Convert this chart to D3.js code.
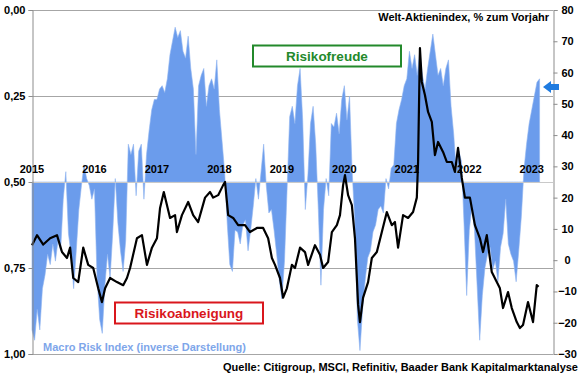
<!DOCTYPE html>
<html>
<head>
<meta charset="utf-8">
<script src="https://cdn.jsdelivr.net/npm/d3@7"></script>
<style>
  body { margin: 0; background: #fff; }
  svg { font-family: "Liberation Sans", Arial, sans-serif; font-weight: bold; }
</style>
</head>
<body>
<script>
const width = 580, height = 375;
const margin = {top: 10, right: 27, bottom: 21, left: 32};

// Macro Risk Index (inverse), half-monthly from Jan 2015
const mriStart = 2015;
const mriValues = [
  0.93, 0.96, 0.87, 0.93, 0.81, 0.77, 0.71, 0.74, 0.68, 0.73, 0.67, 0.70,
  0.55, 0.47, 0.65, 0.71, 0.81, 0.70, 0.58, 0.51, 0.45, 0.49, 0.51, 0.55,
  0.52, 0.78, 0.90, 0.94, 0.80, 0.71, 0.78, 0.65, 0.49, 0.62, 0.70, 0.76,
  0.67, 0.39, 0.42, 0.39, 0.54, 0.41, 0.39, 0.55, 0.42, 0.35, 0.29, 0.26,
  0.26, 0.23, 0.22, 0.24, 0.20, 0.13, 0.09, 0.05, 0.08, 0.06, 0.12, 0.14,
  0.076, 0.17, 0.23, 0.42, 0.22, 0.19, 0.17, 0.28, 0.22, 0.20, 0.23, 0.145,
  0.29, 0.38, 0.47, 0.62, 0.74, 0.76, 0.64, 0.645, 0.68, 0.625, 0.61, 0.70,
  0.64, 0.57, 0.49, 0.55, 0.47, 0.39, 0.51, 0.59, 0.58, 0.64, 0.71, 0.785,
  0.84, 0.73, 0.52, 0.31, 0.28, 0.33, 0.22, 0.17, 0.32, 0.58, 0.48, 0.33,
  0.28, 0.39, 0.58, 0.80, 0.58, 0.49, 0.54, 0.33, 0.34, 0.30, 0.36, 0.26,
  0.22, 0.32, 0.25, 0.47, 0.61, 0.90, 0.99, 0.87, 0.785, 0.72, 0.70, 0.645,
  0.625, 0.58, 0.57, 0.59, 0.49, 0.52, 0.46, 0.45, 0.33, 0.29, 0.26, 0.22,
  0.20, 0.12, 0.17, 0.13, 0.19, 0.12, 0.19, 0.23, 0.17, 0.12, 0.07, 0.13,
  0.19, 0.17, 0.22, 0.17, 0.145, 0.28, 0.36, 0.47, 0.41, 0.44, 0.625, 0.83,
  0.64, 0.57, 0.64, 0.80, 0.96, 0.83, 0.75, 0.71, 0.69, 0.755, 0.73, 0.79,
  0.69, 0.65, 0.55, 0.68, 0.71, 0.73, 0.79, 0.70, 0.60, 0.465, 0.39, 0.33,
  0.29, 0.25, 0.21, 0.20
];
const mriDates = mriValues.map((v, i) => mriStart + i / 24);

// Welt-Aktienindex, % zum Vorjahr
const eqDates = [
  2015.00, 2015.08, 2015.18, 2015.29, 2015.40, 2015.48, 2015.56, 2015.61, 2015.66, 2015.74,
  2015.82, 2015.90, 2015.98, 2016.06, 2016.12, 2016.17, 2016.25, 2016.36, 2016.46, 2016.52,
  2016.57, 2016.68, 2016.76, 2016.84, 2016.92, 2017.00, 2017.05, 2017.11, 2017.21, 2017.29,
  2017.32, 2017.40, 2017.50, 2017.58, 2017.66, 2017.77, 2017.85, 2017.90, 2017.98, 2018.06,
  2018.09, 2018.14, 2018.22, 2018.30, 2018.41, 2018.49, 2018.60, 2018.70, 2018.78, 2018.84,
  2018.89, 2018.97, 2019.02, 2019.08, 2019.16, 2019.21, 2019.29, 2019.37, 2019.42, 2019.53,
  2019.61, 2019.66, 2019.74, 2019.80, 2019.88, 2019.93, 2019.98, 2020.01, 2020.06, 2020.12,
  2020.17, 2020.22, 2020.25, 2020.30, 2020.38, 2020.44, 2020.52, 2020.60, 2020.68, 2020.76,
  2020.81, 2020.86, 2020.94, 2021.02, 2021.10, 2021.16, 2021.18, 2021.21, 2021.24, 2021.29,
  2021.34, 2021.40, 2021.45, 2021.50, 2021.58, 2021.64, 2021.72, 2021.77, 2021.82, 2021.88,
  2021.93, 2022.01, 2022.09, 2022.17, 2022.22, 2022.28, 2022.36, 2022.44, 2022.49, 2022.54,
  2022.62, 2022.68, 2022.76, 2022.81, 2022.86, 2022.94, 2023.02, 2023.08, 2023.11
];
const eqValues = [
  4.8, 8, 5, 7, 8, 2.6, 0.7, 4, -5.7, -7,
  4, -1.5, -2.5, -9, -13.4, -9, -5.7, -7, -8, -5.7,
  -2.5, 7, 8, -1.5, 4, 7, 16.7, 21.8, 13.5, 14.4,
  9, 14.4, 18.6, 14.4, 12.2, 20, 21.8, 20, 20.8, 24,
  25, 14.4, 13.5, 11.2, 11.2, 9, 10.3, 10.3, 7, 0.7,
  -1.5, -5.7, -12, -9, -1.5, -2.5, 4, 2.6, -1.5, 4.8,
  1.7, -2.5, -0.6, 9, 11.2, 14.4, 24, 27.2, 20.8, 17.6,
  7, -14.3, -19.8, -12, -7, 0.7, 2.6, 9, 15.4, 11.2,
  12.2, 4, 14.4, 13.5, 15.4, 20, 31.4, 67.8, 57, 52.8,
  47.4, 44.2, 33.6, 37.8, 34.6, 31.4, 31.4, 28.2, 35.9, 26.3,
  20, 20, 11.2, 7, 2.6, 8, -3.8, -7, -9, -15.3,
  -10.2, -15.3, -19.8, -21.7, -20.7, -13.4, -19.8, -8, -8.5
];

const years = [2015, 2016, 2017, 2018, 2019, 2020, 2021, 2022, 2023];
const leftTicks = [0, 0.25, 0.5, 0.75, 1];
const rightTicks = [-30, -20, -10, 0, 10, 20, 30, 40, 50, 60, 70, 80];
const arrowValue = 0.224;

const x = d3.scaleLinear()
    .domain([2015, 2023.34])
    .range([margin.left, width - margin.right]);

const yL = d3.scaleLinear()
    .domain([0, 1])
    .range([margin.top, height - margin.bottom]);

const yR = d3.scaleLinear()
    .domain([-30, 80])
    .range([height - margin.bottom, margin.top]);

const svg = d3.select("body").append("svg")
    .attr("width", width)
    .attr("height", height)
    .attr("viewBox", [0, 0, width, height]);

// grid
svg.append("g")
    .selectAll("line")
    .data(leftTicks)
    .join("line")
    .attr("x1", margin.left)
    .attr("x2", width - margin.right)
    .attr("y1", d => yL(d) + 0.5)
    .attr("y2", d => yL(d) + 0.5)
    .attr("stroke", "#a6a6a6");

// risk index area around 0.50
const mri = mriValues.map((v, i) => ({t: mriDates[i], v}));
svg.append("path")
    .datum(mri)
    .attr("fill", "#6b9cec")
    .attr("stroke", "#8fb4f0")
    .attr("stroke-width", 0.6)
    .attr("d", d3.area()
        .x(d => x(d.t))
        .y0(yL(0.5))
        .y1(d => yL(d.v)));

svg.append("line")
    .attr("x1", margin.left)
    .attr("x2", width - margin.right)
    .attr("y1", yL(0.5) + 0.5)
    .attr("y2", yL(0.5) + 0.5)
    .attr("stroke", "#c9c9c9");

// equity line
const eq = eqValues.map((v, i) => ({t: eqDates[i], v}));
svg.append("path")
    .datum(eq)
    .attr("fill", "none")
    .attr("stroke", "#000")
    .attr("stroke-width", 2.2)
    .attr("stroke-linejoin", "round")
    .attr("d", d3.line()
        .x(d => x(d.t))
        .y(d => yR(d.v)));

// axes
svg.append("g")
    .attr("transform", `translate(${margin.left + 0.5},0)`)
    .call(d3.axisLeft(yL).tickValues(leftTicks).tickSize(4).tickPadding(3)
        .tickFormat(d => d3.format(".2f")(d).replace(".", ",")))
    .call(g => g.selectAll("path, line").attr("stroke", "#8c8c8c"))
    .call(g => g.selectAll("text").attr("font-size", 11).attr("font-weight", "bold")
        .attr("font-family", "Liberation Sans, Arial").attr("fill", "#000"));

svg.append("g")
    .attr("transform", `translate(${width - margin.right + 0.5},0)`)
    .call(d3.axisRight(yR).tickValues(rightTicks).tickSize(4).tickPadding(10))
    .call(g => g.selectAll("path, line").attr("stroke", "#8c8c8c"))
    .call(g => g.selectAll("text").attr("font-size", 11).attr("font-weight", "bold")
        .attr("text-anchor", "middle").attr("x", 14)
        .attr("font-family", "Liberation Sans, Arial").attr("fill", "#000"));

// year labels
svg.append("g")
    .selectAll("text")
    .data(years)
    .join("text")
    .attr("x", d => x(d))
    .attr("y", yL(0.5) - 9)
    .attr("text-anchor", "middle")
    .attr("font-size", 11)
    .text(d => d);

// label boxes
const boxes = [
  {text: "Risikofreude", cx: 327, cy: 56, w: 148, h: 21, color: "#23892b"},
  {text: "Risikoabneigung", cx: 189, cy: 313, w: 148, h: 21, color: "#d9161c"}
];
const bx = svg.append("g").selectAll("g").data(boxes).join("g");
bx.append("rect")
    .attr("x", d => d.cx - d.w / 2)
    .attr("y", d => d.cy - d.h / 2)
    .attr("width", d => d.w)
    .attr("height", d => d.h)
    .attr("fill", "#fff")
    .attr("stroke", d => d.color)
    .attr("stroke-width", 2);
bx.append("text")
    .attr("x", d => d.cx)
    .attr("y", d => d.cy + 5)
    .attr("text-anchor", "middle")
    .attr("font-size", 13.5)
    .attr("fill", d => d.color)
    .text(d => d.text);

svg.append("text")
    .attr("x", 43)
    .attr("y", 351)
    .attr("font-size", 11)
    .attr("fill", "#7ea6ea")
    .text("Macro Risk Index (inverse Darstellung)");

svg.append("text")
    .attr("x", 549)
    .attr("y", 21)
    .attr("text-anchor", "end")
    .attr("font-size", 11)
    .text("Welt-Aktienindex, % zum Vorjahr");

svg.append("text")
    .attr("x", 578)
    .attr("y", 371)
    .attr("text-anchor", "end")
    .attr("font-size", 11)
    .text("Quelle: Citigroup, MSCI, Refinitiv, Baader Bank Kapitalmarktanalyse");

// arrow pointing at latest risk index level
const ay = yL(arrowValue);
const ax = width - margin.right;
svg.append("path")
    .attr("fill", "#1f7be0")
    .attr("d", `M${ax - 10},${ay} L${ax - 2},${ay - 6} L${ax - 2},${ay - 3} L${ax + 6},${ay - 3} L${ax + 6},${ay + 3} L${ax - 2},${ay + 3} L${ax - 2},${ay + 6} Z`);
</script>
</body>
</html>
